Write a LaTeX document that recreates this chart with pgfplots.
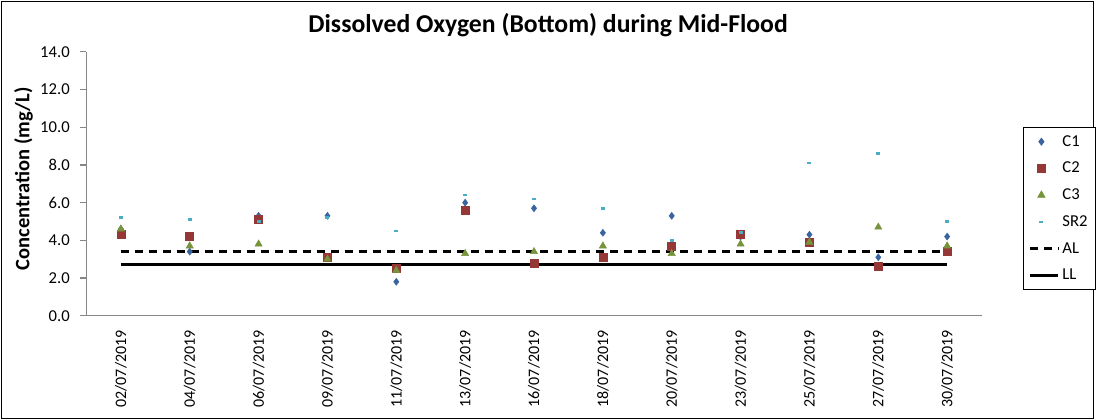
\documentclass[border=0pt]{standalone}
\usepackage{fontspec}
\setmainfont{Carlito}
\usepackage{pgfplots}
\pgfplotsset{compat=1.18}
\definecolor{cone}{HTML}{3A64A0}
\definecolor{ctwo}{HTML}{953735}
\definecolor{cthree}{HTML}{77933C}
\definecolor{csr}{HTML}{4BACC6}
\definecolor{axgray}{HTML}{868686}
\pgfplotsset{mylegline/.style={legend image code/.code={\draw[##1] (0cm,0cm) -- (0.75cm,0cm);}}}
\begin{document}
\begin{tikzpicture}
\path (0,0) rectangle (822pt,315pt);
\draw[black, line width=0.8pt] (1pt,1pt) rectangle (821pt,314pt);
\node[font=\fontsize{19.3}{22}\selectfont\bfseries] at (411.5pt,296pt) {Dissolved Oxygen (Bottom) during Mid-Flood};
\begin{axis}[
  at={(64.9pt,78pt)}, anchor=south west,
  scale only axis, width=672pt, height=198pt,
  xmin=-0.5, xmax=12.5, ymin=0, ymax=14,
  axis x line*=bottom, axis y line*=left,
  axis line style={axgray, line width=0.8pt},
  xtick={0,...,12},
  xticklabels={02/07/2019,04/07/2019,06/07/2019,09/07/2019,11/07/2019,13/07/2019,16/07/2019,18/07/2019,20/07/2019,23/07/2019,25/07/2019,27/07/2019,30/07/2019},
  x tick label style={rotate=90, anchor=east, font=\fontsize{12}{14}\selectfont},
  xticklabel shift=3pt,
  extra x ticks={-0.5,0.5,...,12.5},
  extra x tick labels={},
  extra x tick style={major tick length=5pt, tick style={axgray, line width=0.8pt}},
  ytick={0,2,...,14},
  y tick label style={font=\fontsize{12.5}{14}\selectfont, xshift=-4.5pt},
  /pgf/number format/.cd, fixed, fixed zerofill, precision=1, assume math mode=true,
  /pgfplots/.cd,
  tick align=outside,
  major tick length=4.5pt,
  tick style={axgray, line width=0.8pt},
  xtick style={draw=none},
  ylabel={Concentration (mg/L)},
  ylabel style={font=\fontsize{15.4}{18}\selectfont\bfseries, at={(axis description cs:-0.0703,0.519)}, anchor=center},
  legend style={at={(axis description cs:1.0463,0.716)}, anchor=north west, draw=black, line width=0.6pt, font=\fontsize{12.5}{14}\selectfont, row sep=6.5pt, inner xsep=4pt, inner ysep=4pt},
  legend cell align=left,
  clip=false,
]
\addplot[only marks, mark=diamond*, mark size=2.6pt, color=cone] coordinates {
(0,4.6) (1,3.4) (2,5.3) (3,5.3) (4,1.8) (5,6.0) (6,5.7) (7,4.4) (8,5.3) (9,4.2) (10,4.3) (11,3.1) (12,4.2)};
\addlegendentry{C1}
\addplot[only marks, mark=square*, mark size=3pt, color=ctwo] coordinates {
(0,4.3) (1,4.2) (2,5.1) (3,3.1) (4,2.5) (5,5.6) (6,2.8) (7,3.1) (8,3.7) (9,4.3) (10,3.9) (11,2.6) (12,3.4)};
\addlegendentry{C2}
\addplot[only marks, mark=triangle*, mark size=3.1pt, color=cthree] coordinates {
(0,4.6) (1,3.7) (2,3.8) (3,3.0) (4,2.4) (5,3.3) (6,3.4) (7,3.7) (8,3.3) (9,3.8) (10,3.9) (11,4.7) (12,3.7)};
\addlegendentry{C3}
\addplot[only marks, mark=-, mark size=1.5pt, mark options={line width=2pt}, color=csr] coordinates {
(0,5.2) (1,5.1) (2,5.0) (3,5.2) (4,4.5) (5,6.4) (6,6.2) (7,5.7) (8,4.0) (9,4.4) (10,8.1) (11,8.6) (12,5.0)};
\addlegendentry{SR2}
\addplot[black, line width=2pt, dash pattern=on 6pt off 4.5pt, mylegline] coordinates {(0,3.4) (12,3.4)};
\addlegendentry{AL}
\addplot[black, line width=2pt, mylegline] coordinates {(0,2.7) (12,2.7)};
\addlegendentry{LL}
\end{axis}
\end{tikzpicture}
\end{document}
